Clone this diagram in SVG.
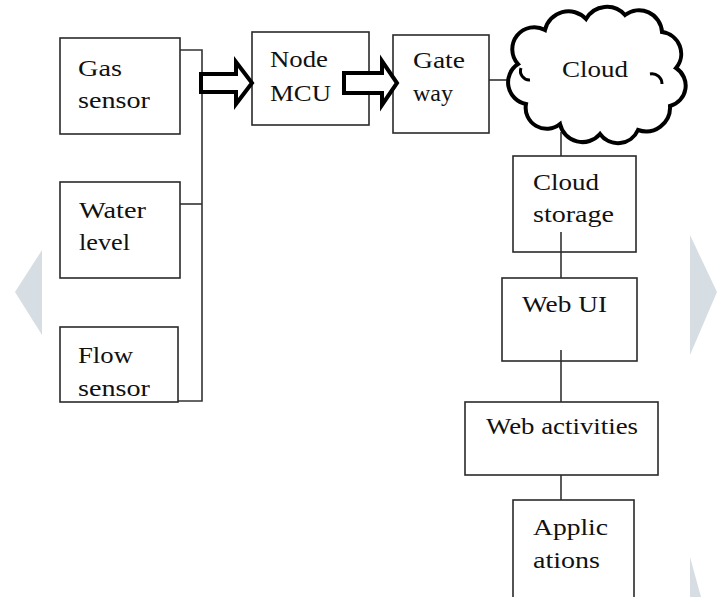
<svg xmlns="http://www.w3.org/2000/svg" width="717" height="597" viewBox="0 0 717 597">
<style>
.box{fill:#fff;stroke:#2a2a2a;stroke-width:1.6}
.t{font-family:"Liberation Serif","Times New Roman",serif;font-size:24px;fill:#111}
.ln{fill:none;stroke:#333;stroke-width:1.6}
.arr{fill:#fff;stroke:#000;stroke-width:4;stroke-linejoin:miter}
.deco{fill:#d6dee3}
</style>
<rect width="717" height="597" fill="#fff"/>
<g id="decor">
<polygon class="deco" points="42,250 15,292 42,335"/>
<polygon class="deco" points="690,235 717,292 690,355"/>
<polygon class="deco" points="690,557 701,597 690,597"/>
</g>
<g id="connectors">
<polyline class="ln" points="180,50 202,50 202,401 178,401"/>
<line class="ln" x1="180" y1="204" x2="202" y2="204"/>
<line class="ln" x1="489" y1="80" x2="514" y2="80"/>
<line class="ln" x1="561" y1="132" x2="561" y2="156"/>
<line class="ln" x1="561" y1="232" x2="561" y2="278"/>
<line class="ln" x1="561" y1="350" x2="561" y2="402"/>
<line class="ln" x1="561" y1="475" x2="561" y2="500"/>
</g>
<g id="gas">
<rect class="box" x="60" y="38" width="120" height="96"/>
<text class="t" x="78" y="76" textLength="44" lengthAdjust="spacingAndGlyphs">Gas</text>
<text class="t" x="78" y="108" textLength="72" lengthAdjust="spacingAndGlyphs">sensor</text>
</g>
<g id="water">
<rect class="box" x="60" y="182" width="120" height="96"/>
<text class="t" x="79" y="218" textLength="67" lengthAdjust="spacingAndGlyphs">Water</text>
<text class="t" x="79" y="250" textLength="51" lengthAdjust="spacingAndGlyphs">level</text>
</g>
<g id="flow">
<rect class="box" x="60" y="327" width="118" height="75"/>
<text class="t" x="78" y="363" textLength="55" lengthAdjust="spacingAndGlyphs">Flow</text>
<text class="t" x="78" y="396" textLength="72" lengthAdjust="spacingAndGlyphs">sensor</text>
</g>
<g id="nodemcu">
<rect class="box" x="252" y="32" width="117" height="93"/>
<text class="t" x="270" y="67" textLength="58" lengthAdjust="spacingAndGlyphs">Node</text>
<text class="t" x="270" y="101" textLength="61" lengthAdjust="spacingAndGlyphs">MCU</text>
</g>
<g id="gateway">
<rect class="box" x="393" y="35" width="96" height="98"/>
<text class="t" x="413" y="68" textLength="52" lengthAdjust="spacingAndGlyphs">Gate</text>
<text class="t" x="413" y="101" textLength="40" lengthAdjust="spacingAndGlyphs">way</text>
</g>
<g id="arrows">
<path class="arr" d="M201,74 H236 V62 L252,83 L236,104 V92 H201 Z"/>
<path class="arr" d="M344,73 H382 V61 L397,83 L382,105 V93 H344 Z"/>
</g>
<g id="cloud">
<path d="M518,64 A22,22 0 0 1 545,30 A24,24 0 0 1 586,19 A24,24 0 0 1 625,15 A23,23 0 0 1 662,32 A22,22 0 0 1 676,68 A21,21 0 0 1 670,106 A24,24 0 0 1 638,130 A22,22 0 0 1 600,134 A23,23 0 0 1 560,124 A21,21 0 0 1 526,104 A22,22 0 0 1 518,64 Z" fill="#fff" stroke="#000" stroke-width="4"/>
<path d="M650,74 A10,10 0 0 1 662,84" fill="none" stroke="#000" stroke-width="3"/>
<path d="M530,80 A9,9 0 0 1 521,68" fill="none" stroke="#000" stroke-width="3"/>
<text class="t" x="562" y="77" textLength="66" lengthAdjust="spacingAndGlyphs">Cloud</text>
</g>
<g id="storage">
<rect class="box" x="513" y="156" width="123" height="96"/>
<text class="t" x="533" y="190" textLength="66" lengthAdjust="spacingAndGlyphs">Cloud</text>
<text class="t" x="533" y="222" textLength="81" lengthAdjust="spacingAndGlyphs">storage</text>
<line class="ln" x1="561" y1="232" x2="561" y2="252"/>
</g>
<g id="webui">
<rect class="box" x="502" y="278" width="135" height="83"/>
<text class="t" x="522" y="312" textLength="85" lengthAdjust="spacingAndGlyphs">Web UI</text>
<line class="ln" x1="561" y1="350" x2="561" y2="361"/>
</g>
<g id="webact">
<rect class="box" x="465" y="402" width="193" height="73"/>
<text class="t" x="486" y="434" textLength="152" lengthAdjust="spacingAndGlyphs">Web activities</text>
</g>
<g id="apps">
<rect class="box" x="513" y="500" width="121" height="110"/>
<text class="t" x="533" y="535" textLength="75" lengthAdjust="spacingAndGlyphs">Applic</text>
<text class="t" x="533" y="568" textLength="67" lengthAdjust="spacingAndGlyphs">ations</text>
</g>
</svg>
